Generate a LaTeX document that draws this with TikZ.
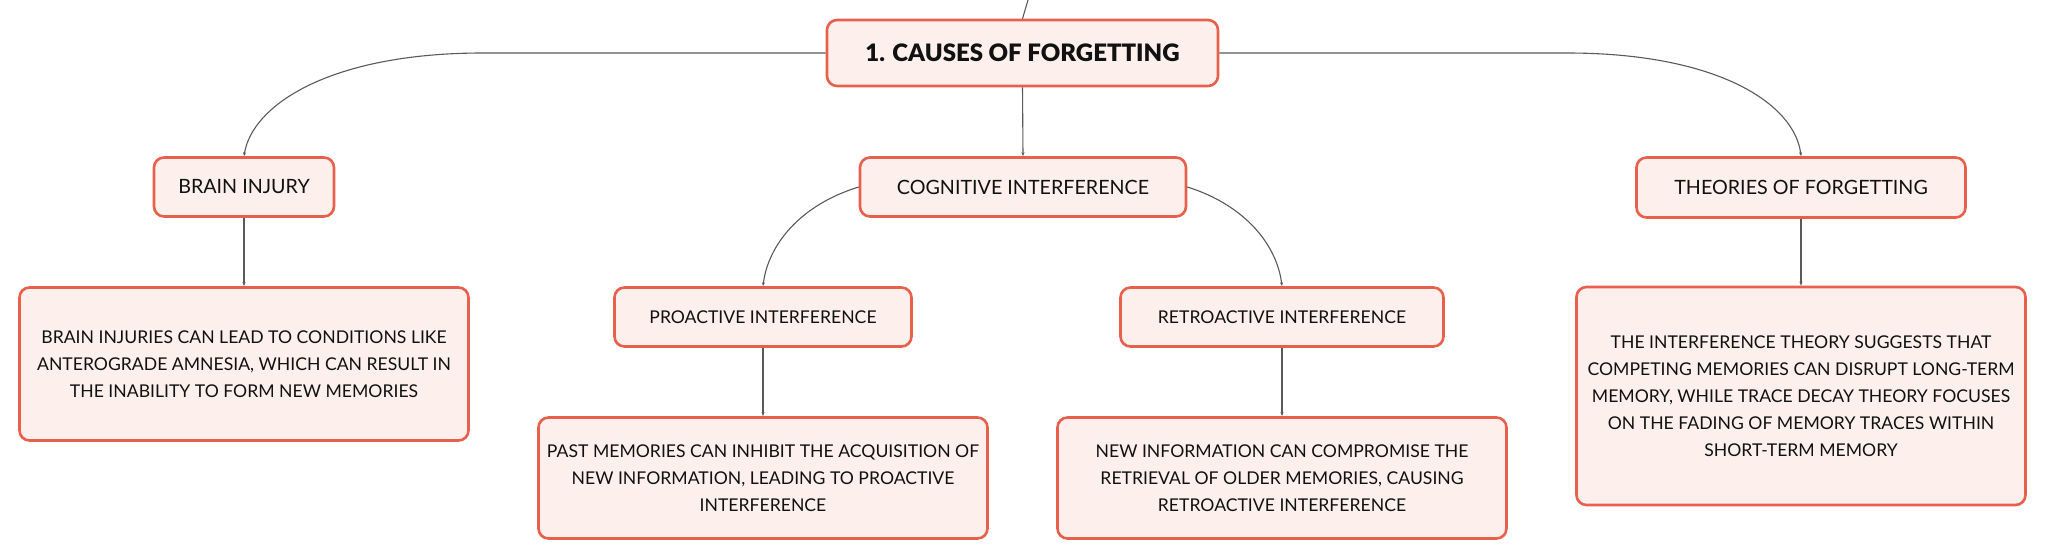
\documentclass[tikz,border=0pt]{standalone}
\usepackage{fontspec}
\setmainfont{Lato}
\newfontfamily\heavyfont{Lato Black}
\usetikzlibrary{arrows.meta}
\definecolor{boxline}{HTML}{E8604C}
\definecolor{boxfill}{HTML}{FDF0EC}
\definecolor{conn}{HTML}{5A5A5A}
\definecolor{txt}{HTML}{111111}
\begin{document}
\begin{tikzpicture}[x=1pt,y=-1pt,
  box/.style={draw=boxline, line width=2.6pt, fill=boxfill, rounded corners=10pt,
    inner sep=0pt, align=center, text=txt},
  rootbox/.style={box, font=\fontsize{24}{30}\heavyfont},
  lvlone/.style={box, font=\fontsize{19.7}{25}\selectfont},
  lvltwo/.style={box, font=\fontsize{17.6}{27}\selectfont},
  link/.style={draw=conn, line width=1.1pt, -{Stealth[length=4pt,width=3pt]}},
  plain/.style={draw=conn, line width=1.1pt}]
\useasboundingbox (0,0) rectangle (2046,559);
\fill[white] (0,0) rectangle (2046,559);

\node[rootbox, minimum width=391pt, minimum height=66pt] (root) at (1022.5,53) {1. CAUSES OF FORGETTING};
\node[lvlone, minimum width=180pt, minimum height=59pt] (brain) at (244,187) {BRAIN INJURY};
\node[lvlone, minimum width=326pt, minimum height=59pt] (cog) at (1023,187) {COGNITIVE INTERFERENCE};
\node[lvlone, minimum width=329pt, minimum height=60pt] (theo) at (1801,187.5) {THEORIES OF FORGETTING};

\node[lvltwo, minimum width=449pt, minimum height=153pt] (bdesc) at (244,364)
  {BRAIN INJURIES CAN LEAD TO CONDITIONS LIKE\\ANTEROGRADE AMNESIA, WHICH CAN RESULT IN\\THE INABILITY TO FORM NEW MEMORIES};
\node[lvltwo, minimum width=297pt, minimum height=59pt] (pro) at (763,317) {PROACTIVE INTERFERENCE};
\node[lvltwo, minimum width=323pt, minimum height=59pt] (retro) at (1282,317) {RETROACTIVE INTERFERENCE};
\node[lvltwo, minimum width=449pt, minimum height=121pt] (past) at (763,478)
  {PAST MEMORIES CAN INHIBIT THE ACQUISITION OF\\NEW INFORMATION, LEADING TO PROACTIVE\\INTERFERENCE};
\node[lvltwo, minimum width=449pt, minimum height=121pt] (new) at (1282,478)
  {NEW INFORMATION CAN COMPROMISE THE\\RETRIEVAL OF OLDER MEMORIES, CAUSING\\RETROACTIVE INTERFERENCE};
\node[lvltwo, minimum width=449pt, minimum height=218pt] (tdesc) at (1801,396)
  {THE INTERFERENCE THEORY SUGGESTS THAT\\COMPETING MEMORIES CAN DISRUPT LONG-TERM\\MEMORY, WHILE TRACE DECAY THEORY FOCUSES\\ON THE FADING OF MEMORY TRACES WITHIN\\SHORT-TERM MEMORY};

\coordinate (topend) at (1028,0);
\coordinate (lj) at (483,53);
\coordinate (rj) at (1567,53);

\draw[plain] (root.north) .. controls (1025,10) .. (topend);
\draw[link] (root.west) -- (lj) .. controls (330,53) and (252,105) .. (brain.north);
\draw[link] (root.east) -- (rj) .. controls (1720,53) and (1795,105) .. (theo.north);
\draw[link] (root.south) -- (cog.north);
\draw[link] (cog.west) .. controls (800,205) and (768,245) .. (pro.north);
\draw[link] (cog.east) .. controls (1245,205) and (1277,245) .. (retro.north);
\draw[link] (brain.south) -- (bdesc.north);
\draw[link] (pro.south) -- (past.north);
\draw[link] (retro.south) -- (new.north);
\draw[link] (theo.south) -- (tdesc.north);
\end{tikzpicture}
\end{document}
